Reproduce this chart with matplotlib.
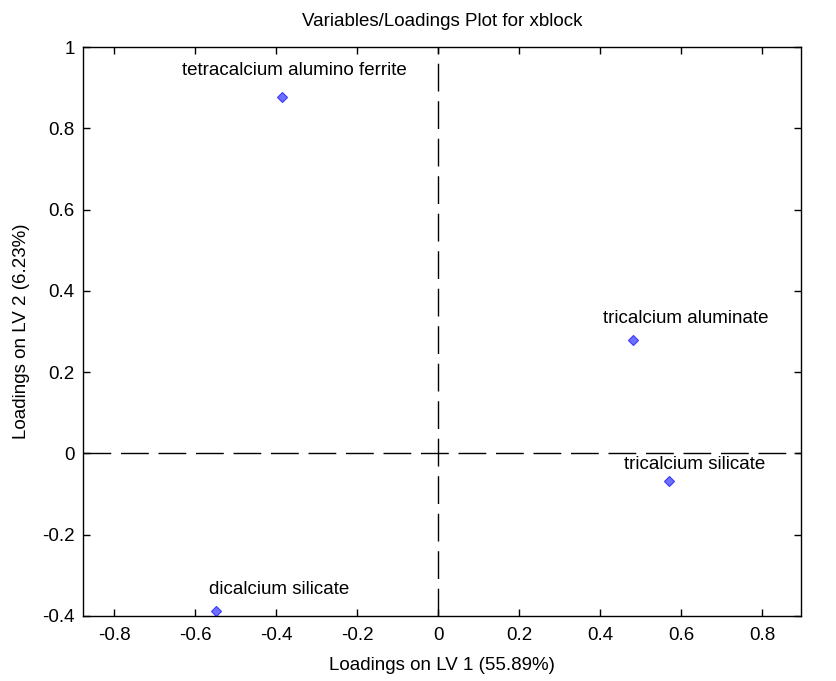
import numpy as np
import matplotlib
matplotlib.use("Agg")
import matplotlib.pyplot as plt

plt.rcParams['font.family'] = ['Liberation Sans', 'DejaVu Sans']
plt.rcParams['axes.unicode_minus'] = False

# loadings
names = ["tetracalcium alumino ferrite", "tricalcium aluminate",
         "tricalcium silicate", "dicalcium silicate"]
lv1 = [-0.386, 0.481, 0.570, -0.548]
lv2 = [0.876, 0.280, -0.068, -0.387]

xticks = [-0.8, -0.6, -0.4, -0.2, 0, 0.2, 0.4, 0.6, 0.8]
yticks = [-0.4, -0.2, 0, 0.2, 0.4, 0.6, 0.8, 1]

# label offsets (pixels) relative to each point
offsets = [(13, 27), (53, 21), (26, 17), (63, 21)]

fs = 13.5

fig = plt.figure(figsize=(8.37, 6.81), dpi=100)
ax = fig.add_axes([83 / 837, 1 - 616 / 681, (801 - 83) / 837, (616 - 47) / 681])

ax.axhline(0, color='black', lw=1, dashes=(20, 7))
ax.axvline(0, color='black', lw=1, dashes=(20, 7))

ax.plot(lv1, lv2, 'D', ms=5, mfc='#6f6fff', mec='#3a3aff', mew=0.8)

for n, x, y, off in zip(names, lv1, lv2, offsets):
    ax.annotate(n, (x, y), xytext=off, textcoords='offset pixels',
                ha='center', va='center', fontsize=fs)

ax.set_xlim(-0.877, 0.896)
ax.set_ylim(-0.4, 1.0)
ax.set_xticks(xticks)
ax.set_yticks(yticks)
ax.set_xticklabels(['%g' % t for t in xticks])
ax.set_yticklabels(['%g' % t for t in yticks])
ax.tick_params(direction='in', top=True, right=True, length=5, labelsize=fs,
               width=1)
ax.tick_params(axis='x', pad=8)
ax.tick_params(axis='y', pad=6)
for s in ax.spines.values():
    s.set_linewidth(1)

ax.set_title("Variables/Loadings Plot for xblock", fontsize=fs, pad=15)
ax.set_xlabel("Loadings on LV 1 (55.89%)", fontsize=fs, labelpad=9)
ax.set_ylabel("Loadings on LV 2 (6.23%)", fontsize=fs, labelpad=9)

fig.savefig("out.png", dpi=100, facecolor='white')
